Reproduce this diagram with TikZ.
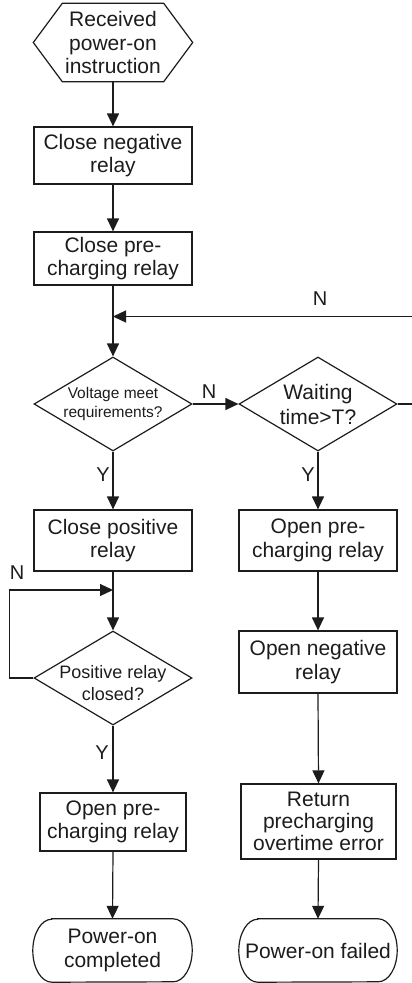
\documentclass[tikz,border=0pt]{standalone}
\usepackage{fontspec}
\setmainfont{Liberation Sans}
\usetikzlibrary{arrows.meta,shapes.geometric}
\definecolor{ink}{RGB}{28,28,28}
\newcommand{\mainsize}{\fontsize{21}{23.5}\selectfont}
\newcommand{\smallsize}{\fontsize{15.5}{19}\selectfont}
\newcommand{\midsize}{\fontsize{18}{21.5}\selectfont}

\tikzset{
  every node/.style={font=\mainsize, text=ink},
  box/.style={draw=ink, line width=1.2pt, rectangle, align=center, inner sep=0pt},
  plainnode/.style={rectangle, align=center, inner sep=0pt},
  dec/.style={draw=ink, line width=1.2pt, diamond, inner sep=0pt,
              minimum width=158pt, minimum height=94pt},
  dectext/.style={align=center, inner sep=0pt},
  flow/.style={draw=ink, line width=1.2pt, -{Triangle[length=13pt,width=12pt]}},
  plain/.style={draw=ink, line width=1.2pt, line join=miter},
  lbl/.style={inner sep=0pt, font=\fontsize{20}{24}\selectfont},
}

\begin{document}
\begin{tikzpicture}[x=1pt, y=-1pt]
\useasboundingbox (0,0) rectangle (412,983);

% start: hexagon around a text node
\node[plainnode, minimum width=101pt, minimum height=78pt] (start) at (113,42.5)
  {Received\\power-on\\instruction};
\draw[plain] (start.north west) -- (start.north east) -- ([xshift=29pt]start.east)
  -- (start.south east) -- (start.south west) -- ([xshift=-29pt]start.west) -- cycle;

% left column
\node[box, minimum width=158pt, minimum height=57pt] (cneg) at (113,155.5) {Close negative\\relay};
\node[box, minimum width=158pt, minimum height=53pt] (cpre) at (113,258.5) {Close pre-\\charging relay};
\node[dec, label={[name=volttxt, dectext, font=\smallsize]center:{Voltage meet\\requirements?}}] (volt) at (113,404) {};
\node[box, minimum width=158pt, minimum height=61pt] (cpos) at (113,540.5) {Close positive\\relay};
\node[dec, label={[name=posdtxt, dectext, font=\midsize, yshift=-5pt]center:{Positive relay\\closed?}}] (posd) at (113,678) {};
\node[box, minimum width=146pt, minimum height=58pt] (opl) at (113,822) {Open pre-\\charging relay};
\node[plainnode, minimum width=159pt, minimum height=63pt] (done) at (112.5,950.5) {Power-on\\completed};

% right column
\node[dec, label={[name=waittxt, dectext, font=\fontsize{21}{25}\selectfont]center:{Waiting\\time>T?}}] (wait) at (318,404) {};
\node[box, minimum width=158pt, minimum height=61pt] (opr) at (318,540.5) {Open pre-\\charging relay};
\node[box, minimum width=158pt, minimum height=62pt] (oneg) at (318,662) {Open negative\\relay};
\node[box, minimum width=155pt, minimum height=75pt, font=\fontsize{21}{22}\selectfont] (ret) at (318.5,821.5)
  {Return\\precharging\\overtime error};
\node[plainnode, minimum width=158pt, minimum height=63pt] (fail) at (318,950.5) {Power-on failed};

% terminals: straight sides with elliptical ends
\foreach \t in {done,fail}{
  \draw[plain] ([xshift=19pt]\t.north west) -- ([xshift=-19pt]\t.north east)
    arc[start angle=90, end angle=-90, x radius=19pt, y radius=31.5pt]
    -- ([xshift=19pt]\t.south west)
    arc[start angle=270, end angle=90, x radius=19pt, y radius=31.5pt] -- cycle;
}

% junction points
\coordinate (join) at (113,316.5);
\coordinate (loop) at (113,590);

% connectors
\draw[flow] (start.south) -- (cneg.north);
\draw[flow] (cneg.south) -- (cpre.north);
\draw[flow] (cpre.south) -- (volt.north);
\draw[flow] (volt.east) -- (wait.west);
\draw[flow] (wait.east) -- ++(30,0) |- (join);
\draw[flow] (volt.south) -- (cpos.north);
\draw[flow] (cpos.south) -- (posd.north);
\draw[flow] (posd.west) -- ++(-24,0) |- (loop);
\draw[flow] (posd.south) -- (opl.north);
\draw[flow] (opl.south) -- (done.north);
\draw[flow] (wait.south) -- (opr.north);
\draw[flow] (opr.south) -- (oneg.north);
\draw[flow] (oneg.south) -- (ret.north);
\draw[flow] (ret.south) -- (fail.north);

% branch labels
\node[lbl] (nv) at (209,392) {N};
\node[lbl] (nw) at (320,299) {N};
\node[lbl] (yv) at (103,475) {Y};
\node[lbl] (yw) at (308,475) {Y};
\node[lbl] (np) at (17,573) {N};
\node[lbl] (yp) at (102,753) {Y};
\end{tikzpicture}
\end{document}
